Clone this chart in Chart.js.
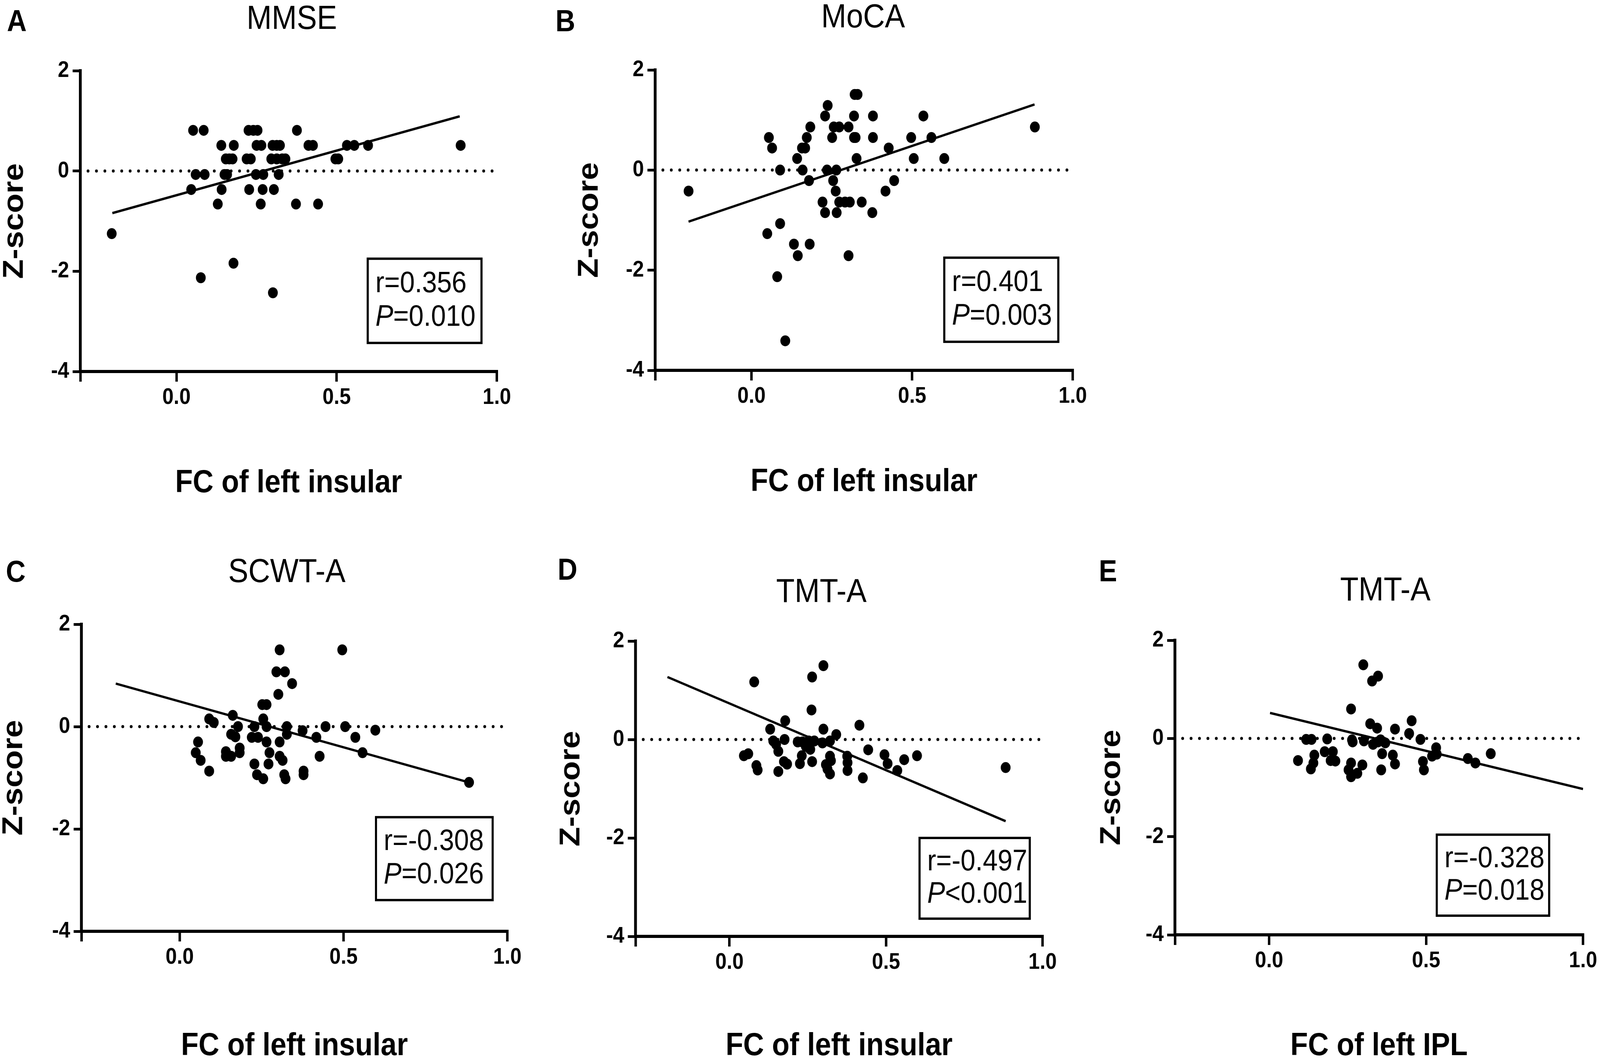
<!DOCTYPE html>
<html>
<head>
<meta charset="utf-8">
<script src="https://cdn.jsdelivr.net/npm/chart.js@4.4.1/dist/chart.umd.min.js"></script>
<style>
  html, body { margin: 0; padding: 0; background: #fff; overflow: hidden; }
  #page {
    position: absolute; left: 0; top: 0;
    width: 4562px; height: 2716px; overflow: hidden;
    transform-origin: 0 0; background: #fff;
    font-family: "Liberation Sans", Arial, sans-serif; color: #000;
  }
  .label { position: absolute; transform: translate(-50%, -50%); line-height: 1; white-space: nowrap; }
  .letter { font-weight: bold; font-size: 78px; }
  .title { font-size: 86px; }
  .holder { position: absolute; }
</style>
</head>
<body>
<div id="page"></div>
<script>
// axis ticks shared by all panels
const xTicks = [-0.3, 0, 0.5, 1.0];
const yTicks = [-4, -2, 0, 2];

// A - MMSE
const mmseX = [0.052, 0.085, 0.225, 0.240, 0.253, 0.376,
  0.140, 0.179, 0.250, 0.265, 0.300, 0.313, 0.323, 0.412, 0.426, 0.532, 0.555, 0.598, 0.887,
  0.154, 0.165, 0.175, 0.219, 0.232, 0.296, 0.313, 0.330, 0.340, 0.496, 0.505,
  0.060, 0.088, 0.150, 0.158, 0.248, 0.271, 0.319,
  0.046, 0.141, 0.227, 0.269, 0.304,
  0.129, 0.263, 0.373, 0.442,
  -0.202, 0.178, 0.076, 0.301];
const mmseY = [0.81, 0.81, 0.81, 0.81, 0.81, 0.81,
  0.51, 0.51, 0.51, 0.51, 0.51, 0.51, 0.51, 0.51, 0.51, 0.51, 0.51, 0.51, 0.51,
  0.24, 0.24, 0.24, 0.24, 0.24, 0.24, 0.24, 0.24, 0.24, 0.24, 0.24,
  -0.07, -0.07, -0.07, -0.07, -0.07, -0.07, -0.07,
  -0.37, -0.37, -0.37, -0.37, -0.37,
  -0.66, -0.66, -0.66, -0.66,
  -1.25, -1.84, -2.13, -2.43];
const mmseFitX = [-0.2, 0.884];
const mmseFitY = [-0.84, 1.09];

// B - MoCA
const mocaX = [-0.196, 0.054, 0.064, 0.089, 0.049, 0.089, 0.080, 0.105, 0.132, 0.144,
  0.142, 0.157, 0.167, 0.159, 0.172, 0.183, 0.179, 0.181, 0.229, 0.237,
  0.251, 0.256, 0.273, 0.235, 0.264, 0.254, 0.262, 0.221, 0.229, 0.265,
  0.273, 0.291, 0.306, 0.302, 0.302, 0.319, 0.324, 0.319, 0.321, 0.330,
  0.327, 0.343, 0.378, 0.378, 0.376, 0.417, 0.427, 0.444, 0.497, 0.505,
  0.535, 0.560, 0.600, 0.882];
const mocaY = [-0.42, 0.65, 0.44, 0.00, -1.27, -1.07, -2.13, -3.41, -1.48, -1.71,
  0.23, 0.44, 0.44, 0.00, 0.65, 0.86, -0.21, -1.48, 1.08, 1.29,
  0.65, 0.86, 0.86, 0.00, 0.00, -0.21, -0.42, -0.64, -0.85, -0.85,
  -0.64, -0.64, -0.64, 0.86, -1.71, 0.65, 0.65, 1.08, 1.51, 1.51,
  0.23, -0.64, 1.08, 0.65, -0.85, -0.42, 0.44, -0.21, 0.65, 0.23,
  1.08, 0.65, 0.23, 0.86];
const mocaFitX = [-0.196, 0.881];
const mocaFitY = [-1.03, 1.31];

// C - SCWT-A
const scwtX = [0.305, 0.496, 0.295, 0.321, 0.343, 0.301, 0.252, 0.265, 0.090, 0.104,
  0.162, 0.178, 0.228, 0.255, 0.265, 0.327, 0.375, 0.445, 0.505, 0.597,
  0.157, 0.170, 0.327, 0.220, 0.239, 0.417, 0.536, 0.056, 0.265, 0.305,
  0.049, 0.141, 0.157, 0.183, 0.183, 0.274, 0.558, 0.141, 0.064, 0.305,
  0.314, 0.427, 0.228, 0.271, 0.090, 0.378, 0.378, 0.236, 0.255, 0.319,
  0.323, 0.883];
const scwtY = [1.50, 1.50, 1.07, 1.07, 0.84, 0.63, 0.43, 0.43, 0.15, 0.08,
  0.22, 0.00, 0.00, 0.15, 0.00, 0.00, -0.08, 0.00, 0.00, -0.07,
  -0.15, -0.20, -0.15, -0.21, -0.21, -0.21, -0.21, -0.30, -0.30, -0.30,
  -0.51, -0.49, -0.58, -0.42, -0.51, -0.51, -0.51, -0.58, -0.66, -0.58,
  -0.66, -0.58, -0.73, -0.73, -0.87, -0.87, -0.94, -0.94, -1.02, -0.94,
  -1.02, -1.09];
const scwtFitX = [-0.195, 0.883];
const scwtFitY = [0.84, -1.09];

// D - TMT-A vs left insular
const tmtX = [0.079, 0.264, 0.300, 0.262, 0.178, 0.130, 0.300, 0.415, 0.341, 0.140,
  0.149, 0.176, 0.156, 0.218, 0.233, 0.253, 0.271, 0.244, 0.258, 0.297,
  0.321, 0.231, 0.443, 0.046, 0.060, 0.086, 0.090, 0.174, 0.184, 0.225,
  0.264, 0.156, 0.321, 0.324, 0.308, 0.313, 0.321, 0.376, 0.377, 0.377,
  0.426, 0.495, 0.505, 0.536, 0.558, 0.599, 0.882];
const tmtY = [1.17, 1.27, 1.50, 0.60, 0.38, 0.21, 0.21, 0.29, 0.10, -0.03,
  -0.10, 0.00, -0.24, -0.05, -0.05, -0.03, -0.03, -0.14, -0.20, -0.07,
  -0.03, -0.33, -0.21, -0.33, -0.29, -0.53, -0.62, -0.45, -0.50, -0.49,
  -0.45, -0.65, -0.34, -0.43, -0.51, -0.60, -0.70, -0.34, -0.47, -0.63,
  -0.78, -0.31, -0.49, -0.63, -0.41, -0.33, -0.57];
const tmtFitX = [-0.198, 0.882];
const tmtFitY = [1.27, -1.66];

// E - TMT-A vs left IPL
const iplX = [0.300, 0.328, 0.347, 0.261, 0.322, 0.344, 0.401, 0.454, 0.446, 0.118,
  0.135, 0.185, 0.264, 0.266, 0.302, 0.331, 0.347, 0.355, 0.370, 0.482,
  0.532, 0.534, 0.519, 0.144, 0.141, 0.133, 0.092, 0.177, 0.203, 0.196,
  0.211, 0.360, 0.394, 0.401, 0.490, 0.493, 0.261, 0.253, 0.261, 0.281,
  0.297, 0.357, 0.633, 0.657, 0.706];
const iplY = [1.50, 1.17, 1.27, 0.60, 0.30, 0.21, 0.19, 0.36, 0.10, -0.02,
  -0.02, -0.01, -0.03, -0.07, -0.05, -0.12, -0.07, -0.03, -0.09, -0.02,
  -0.19, -0.32, -0.36, -0.34, -0.50, -0.62, -0.45, -0.27, -0.27, -0.45,
  -0.46, -0.31, -0.34, -0.52, -0.47, -0.64, -0.50, -0.64, -0.78, -0.71,
  -0.54, -0.64, -0.41, -0.50, -0.31];
const iplFitX = [0.003, 1.0];
const iplFitY = [0.52, -1.03];

const statR = ["r=0.356", "r=0.401", "r=-0.308", "r=-0.497", "r=-0.328"];
const statP = ["=0.010", "=0.003", "=0.026", "<0.001", "=0.018"];

const FONT = "'Liberation Sans', Arial, sans-serif";
const PAD_TOP = 45;
const PAD_RIGHT = 45;

// the figure is laid out on a 4562 x 2716 sheet which is stretched to the viewport
const page = document.getElementById("page");
function fitPage() {
  let sx = window.innerWidth / 4562;
  let sy = window.innerHeight / 2716;
  page.style.transform = "scale(" + sx + "," + sy + ")";
}
fitPage();
window.addEventListener("resize", fitPage);

// area = [left, top, right, bottom] of the plot area
const panels = [
  { letter: "A", title: "MMSE", xLabel: "FC of left insular", xs: mmseX, ys: mmseY,
    fitX: mmseFitX, fitY: mmseFitY, r: statR[0], p: statP[0],
    area: [229, 181, 1418, 951], zTitleX: 42, xTitleY: 1237,
    letterPos: [48, 53], titlePos: [832, 44], box: [0.597, -1.75, 0.952, -3.43] },
  { letter: "B", title: "MoCA", xLabel: "FC of left insular", xs: mocaX, ys: mocaY,
    fitX: mocaFitX, fitY: mocaFitY, r: statR[1], p: statP[1],
    area: [1868, 179, 3060, 948], zTitleX: 1681, xTitleY: 1234,
    letterPos: [1612, 53], titlePos: [2461, 40], box: [0.600, -1.75, 0.955, -3.43] },
  { letter: "C", title: "SCWT-A", xLabel: "FC of left insular", xs: scwtX, ys: scwtY,
    fitX: scwtFitX, fitY: scwtFitY, r: statR[2], p: statP[2],
    area: [232, 1598, 1448, 2384], zTitleX: 40, xTitleY: 2678,
    letterPos: [45, 1462], titlePos: [818, 1460], box: [0.599, -1.77, 0.955, -3.39] },
  { letter: "D", title: "TMT-A", xLabel: "FC of left insular", xs: tmtX, ys: tmtY,
    fitX: tmtFitX, fitY: tmtFitY, r: statR[3], p: statP[3],
    area: [1812, 1641, 2974, 2397], zTitleX: 1629, xTitleY: 2678,
    letterPos: [1618, 1457], titlePos: [2342, 1511], box: [0.607, -2.00, 0.959, -3.64] },
  { letter: "E", title: "TMT-A", xLabel: "FC of left IPL", xs: iplX, ys: iplY,
    fitX: iplFitX, fitY: iplFitY, r: statR[4], p: statP[4],
    area: [3350, 1639, 4515, 2393], zTitleX: 3170, xTitleY: 2678,
    letterPos: [3159, 1461], titlePos: [3950, 1507], box: [0.534, -1.96, 0.892, -3.61] }
];

// dotted zero line + r / P box
const extras = {
  id: "extras",
  beforeDatasetsDraw(chart) {
    const { ctx, chartArea, scales } = chart;
    const y0 = scales.y.getPixelForValue(0);
    ctx.save();
    ctx.strokeStyle = "#000";
    ctx.lineWidth = 8;
    ctx.lineCap = "round";
    ctx.setLineDash([0, 24]);
    ctx.beginPath();
    ctx.moveTo(chartArea.left + 22, y0);
    ctx.lineTo(chartArea.right + 6, y0);
    ctx.stroke();
    ctx.restore();
  },
  afterDatasetsDraw(chart, args, opts) {
    const { ctx, scales } = chart;
    const left = scales.x.getPixelForValue(opts.box[0]);
    const top = scales.y.getPixelForValue(opts.box[1]);
    const right = scales.x.getPixelForValue(opts.box[2]);
    const bottom = scales.y.getPixelForValue(opts.box[3]);
    const h = bottom - top;
    const tx = left + 22;
    ctx.save();
    ctx.strokeStyle = "#000";
    ctx.lineWidth = 6;
    ctx.strokeRect(left, top, right - left, h);
    ctx.fillStyle = "#000";
    ctx.textAlign = "left";
    ctx.textBaseline = "middle";
    ctx.font = "76px " + FONT;
    ctx.fillText(opts.r, tx, top + h * 0.3);
    ctx.font = "italic 76px " + FONT;
    ctx.fillText("P", tx, top + h * 0.7);
    const pw = ctx.measureText("P").width;
    ctx.font = "76px " + FONT;
    ctx.fillText(opts.p, tx + pw, top + h * 0.7);
    ctx.restore();
  }
};

function addLabel(cls, text, pos) {
  let div = document.createElement("div");
  div.className = "label " + cls;
  div.textContent = text;
  div.style.left = pos[0] + "px";
  div.style.top = pos[1] + "px";
  page.appendChild(div);
}

function drawPanel(pn) {
  addLabel("letter", pn.letter, pn.letterPos);
  addLabel("title", pn.title, pn.titlePos);

  let [L, T, R, B] = pn.area;
  let cLeft = pn.zTitleX - 41;
  let cTop = T - PAD_TOP;
  let cRight = R + PAD_RIGHT;
  let cBottom = pn.xTitleY + 41;
  let yWidth = L - cLeft;
  let xHeight = cBottom - B;

  let holder = document.createElement("div");
  holder.className = "holder";
  holder.style.left = cLeft + "px";
  holder.style.top = cTop + "px";
  holder.style.width = (cRight - cLeft) + "px";
  holder.style.height = (cBottom - cTop) + "px";
  let canvas = document.createElement("canvas");
  holder.appendChild(canvas);
  page.appendChild(holder);

  let points = pn.xs.map((v, i) => ({ x: v, y: pn.ys[i] }));
  let fit = pn.fitX.map((v, i) => ({ x: v, y: pn.fitY[i] }));
  let tickFont = { family: FONT, size: 58, weight: "bold" };
  let titleFont = { family: FONT, size: 82, weight: "bold", lineHeight: 1 };

  new Chart(canvas.getContext("2d"), {
    type: "scatter",
    data: {
      datasets: [
        {
          data: fit,
          showLine: true,
          borderColor: "#000",
          borderWidth: 6,
          pointRadius: 0
        },
        {
          data: points,
          backgroundColor: "#000",
          borderWidth: 0,
          pointRadius: 14
        }
      ]
    },
    options: {
      responsive: true,
      maintainAspectRatio: false,
      animation: false,
      layout: { padding: { top: PAD_TOP, right: PAD_RIGHT, left: 0, bottom: 0 } },
      plugins: {
        legend: { display: false },
        tooltip: { enabled: false },
        extras: { box: pn.box, r: pn.r, p: pn.p }
      },
      scales: {
        x: {
          type: "linear",
          min: -0.3,
          max: 1.0,
          afterBuildTicks: (s) => { s.ticks = xTicks.map((v) => ({ value: v })); },
          afterFit: (s) => { s.height = xHeight; },
          border: { display: true, color: "#000", width: 8 },
          grid: { drawOnChartArea: false, color: "#000", lineWidth: 7, tickLength: 26, tickColor: "#000", tickWidth: 7 },
          ticks: {
            color: "#000",
            padding: 6,
            maxRotation: 0,
            autoSkip: false,
            font: tickFont,
            callback: (v) => (v < 0 ? "" : Number(v).toFixed(1))
          },
          title: { display: true, text: pn.xLabel, color: "#000", padding: 0, font: titleFont }
        },
        y: {
          type: "linear",
          min: -4,
          max: 2,
          afterBuildTicks: (s) => { s.ticks = yTicks.map((v) => ({ value: v })); },
          afterFit: (s) => { s.width = yWidth; },
          border: { display: true, color: "#000", width: 8 },
          grid: { drawOnChartArea: false, color: "#000", lineWidth: 7, tickLength: 22, tickColor: "#000", tickWidth: 7 },
          ticks: {
            color: "#000",
            padding: 10,
            font: tickFont,
            callback: (v) => String(v)
          },
          title: { display: true, text: "Z-score", color: "#000", padding: 0, font: titleFont }
        }
      }
    },
    plugins: [extras]
  });
}

panels.forEach(drawPanel);
</script>
</body>
</html>
